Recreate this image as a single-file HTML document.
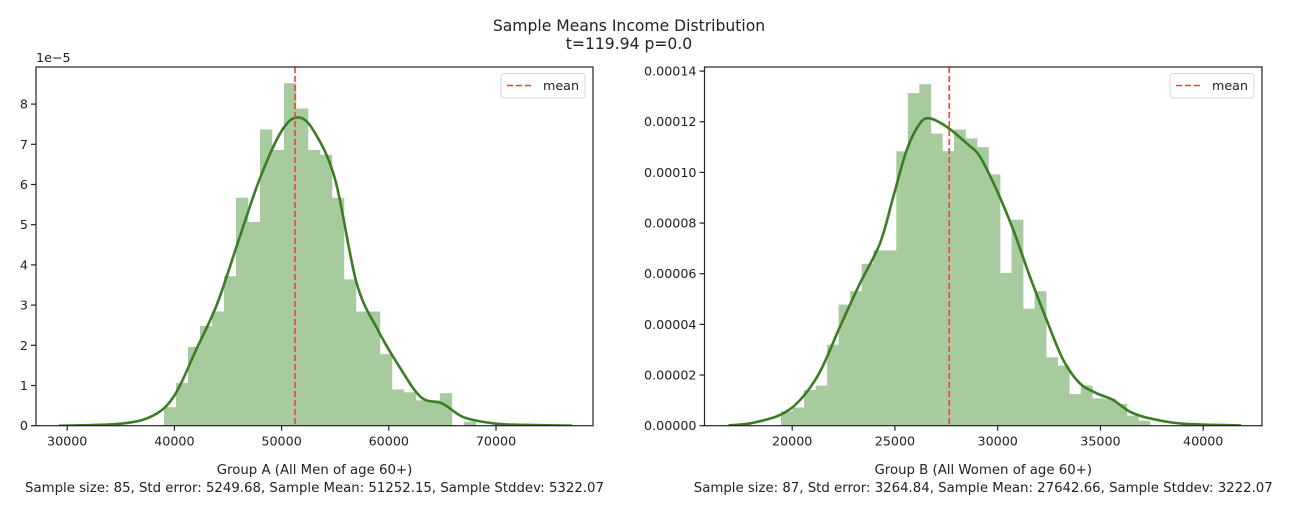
<!DOCTYPE html>
<html><head><meta charset="utf-8"><style>
body{margin:0;background:#fff;}
svg text{font-family:"DejaVu Sans","Liberation Sans",sans-serif;fill:#222;}
</style></head><body>
<svg id="chart" width="1292" height="514" xmlns="http://www.w3.org/2000/svg">
<text x="629" y="31" font-size="15.6" text-anchor="middle">Sample Means Income Distribution</text>
<text x="629" y="49" font-size="15.6" text-anchor="middle">t=119.94 p=0.0</text>
</svg>
<script>
// Group A (men) data
const aBinStart = 39030, aBinWidth = 1119;
const aDensity = [0.46,1.06,1.96,2.48,2.84,3.72,5.67,5.07,7.37,6.86,8.52,7.89,6.86,6.74,5.67,3.64,2.84,2.84,1.78,0.9,0.83,0.63,0.63,0.81,0,0.1];
const aKdeX = [29240,35000,38000,40000,42000,44000,46000,48000,50000,51500,53000,55000,57000,59000,61000,63000,65000,67000,70000,73000,77100];
const aKdeY = [0.0,0.05,0.25,0.75,1.87,3.04,4.62,6.17,7.33,7.67,7.33,6.12,3.55,2.37,1.46,0.71,0.55,0.21,0.05,0.02,0.0];
const aMean = 51252.15;
const aXTicks = [30000,40000,50000,60000,70000];
const aYTicks = [0,1,2,3,4,5,6,7,8];
// Group B (women) data
const bBinStart = 19455, bBinWidth = 561;
const bDensity = [0.57,0.72,1.41,1.58,3.2,4.78,5.31,6.39,6.92,6.92,10.83,13.13,13.48,11.53,10.84,11.69,11.34,11.0,9.92,6.03,8.13,4.62,5.31,2.7,2.37,1.25,1.59,1.08,1.05,0.86,0.4,0.2];
const bKdeX = [16900,18000,19406,20380,21353,22326,23299,24272,24920,25572,26219,26706,27518,28491,29139,29951,30759,31572,32384,33192,34005,34817,35626,36438,37411,39000,41850];
const bKdeY = [0.01,0.1,0.42,1.01,2.13,3.91,5.62,7.2,9.04,10.88,11.94,12.13,11.8,11.15,10.62,9.3,7.73,5.88,4.17,2.59,1.67,1.28,1.01,0.55,0.29,0.08,0.01];
const bMean = 27642.66;
const bXTicks = [20000,25000,30000,35000,40000];
const bYTicks = [0,2,4,6,8,10,12,14];
const bYLabels = ["0.00000","0.00002","0.00004","0.00006","0.00008","0.00010","0.00012","0.00014"];

const svg = document.getElementById('chart');
const NS = 'http://www.w3.org/2000/svg';
function mk(tag, attrs, parent){const e=document.createElementNS(NS,tag);for(const k in attrs)e.setAttribute(k,attrs[k]);(parent||svg).appendChild(e);return e;}
function smooth(pts){
  let d='M'+pts[0][0].toFixed(1)+','+pts[0][1].toFixed(1);
  for(let i=0;i<pts.length-1;i++){
    const p0=pts[Math.max(0,i-1)],p1=pts[i],p2=pts[i+1],p3=pts[Math.min(pts.length-1,i+2)];
    const c1=[p1[0]+(p2[0]-p0[0])/6,p1[1]+(p2[1]-p0[1])/6];
    const c2=[p2[0]-(p3[0]-p1[0])/6,p2[1]-(p3[1]-p1[1])/6];
    d+=' C'+c1[0].toFixed(1)+','+c1[1].toFixed(1)+' '+c2[0].toFixed(1)+','+c2[1].toFixed(1)+' '+p2[0].toFixed(1)+','+p2[1].toFixed(1);
  }
  return d;
}

function panel(cfg){
  const g = mk('g',{});
  
  
  const L=cfg.left,R=cfg.right,T=67,B=425.7;
  const x = v => cfg.x0px + (v - cfg.x0v) * cfg.xs;
  const y = d => B - d * cfg.ys;
  const cp = mk('clipPath',{id:cfg.name+'-clip'},g);
  mk('rect',{x:L,y:T,width:R-L,height:B-T},cp);
  const plot = mk('g',{'clip-path':'url(#'+cfg.name+'-clip)'},g);
  cfg.dens.forEach((d,i)=>{
    if(d<=0) return;
    const x1=x(cfg.binStart+i*cfg.binWidth), x2=x(cfg.binStart+(i+1)*cfg.binWidth);
    const r = mk('rect',{x:x1,y:y(d),width:x2-x1+0.3,height:B-y(d),fill:'#a7cb9e'},plot);
    
    
  });
  const pts = cfg.kx.map((v,i)=>[x(v),y(cfg.ky[i])]);
  const kde = mk('path',{d:smooth(pts),fill:'none',stroke:'#3a7d24','stroke-width':2.6,'stroke-linejoin':'round'},plot);
  
  
  const ml = mk('line',{x1:x(cfg.mean),x2:x(cfg.mean),y1:T,y2:B,stroke:'#e8453c','stroke-width':1.6,'stroke-dasharray':'6,3'},plot);
  
  
  const fr = mk('rect',{x:L,y:T,width:R-L,height:B-T,fill:'none',stroke:'#222','stroke-width':1.2},g);
  
  
  cfg.xt.forEach(v=>{
    mk('line',{x1:x(v),x2:x(v),y1:B,y2:B+5,stroke:'#222','stroke-width':1.2},g);
    const t = mk('text',{x:x(v),y:B+20,'font-size':12.7,'text-anchor':'middle'},g);
    t.textContent = v;
    
    
  });
  cfg.yt.forEach((v,i)=>{
    mk('line',{x1:L-5,x2:L,y1:y(v),y2:y(v),stroke:'#222','stroke-width':1.2},g);
    const t = mk('text',{x:L-8,y:y(v)+4.5,'font-size':12.7,'text-anchor':'end'},g);
    t.textContent = cfg.yl ? cfg.yl[i] : v;
    
    
  });
  const lg = mk('g',{},g);
  
  
  const lx = R-92;
  mk('rect',{x:lx,y:73.5,width:84,height:24.5,rx:3,fill:'#fff',stroke:'#d6d6d6','stroke-width':1},lg);
  mk('line',{x1:lx+6,x2:lx+33,y1:85.5,y2:85.5,stroke:'#e8453c','stroke-width':1.6,'stroke-dasharray':'6,3'},lg);
  const lt = mk('text',{x:lx+42,y:90,'font-size':12.7},lg);
  lt.textContent='mean';
  
  
  const cx=(L+R)/2;
  const xl1 = mk('text',{x:cx,y:474,'font-size':13.3,'text-anchor':'middle'},g);
  xl1.textContent=cfg.xlab1;
  
  
  const xl2 = mk('text',{x:cx,y:492,'font-size':13.3,'text-anchor':'middle'},g);
  xl2.textContent=cfg.xlab2;
  
  
  if(cfg.offset){
    const o = mk('text',{x:L,y:62,'font-size':12.7},g);
    o.textContent=cfg.offset;
    
    
  }
}
panel({name:'group-a-panel',left:36,right:593,x0px:67.2,x0v:30000,xs:0.01072,ys:40.2,
  binStart:aBinStart,binWidth:aBinWidth,dens:aDensity,kx:aKdeX,ky:aKdeY,mean:aMean,xt:aXTicks,yt:aYTicks,
  xlab1:'Group A (All Men of age 60+)',xlab2:'Sample size: 85, Std error: 5249.68, Sample Mean: 51252.15, Sample Stddev: 5322.07',offset:'1e\u22125'});
panel({name:'group-b-panel',left:704.5,right:1262,x0px:792.2,x0v:20000,xs:0.02055,ys:25.33,
  binStart:bBinStart,binWidth:bBinWidth,dens:bDensity,kx:bKdeX,ky:bKdeY,mean:bMean,xt:bXTicks,yt:bYTicks,yl:bYLabels,
  xlab1:'Group B (All Women of age 60+)',xlab2:'Sample size: 87, Std error: 3264.84, Sample Mean: 27642.66, Sample Stddev: 3222.07'});
</script>
</body></html>
